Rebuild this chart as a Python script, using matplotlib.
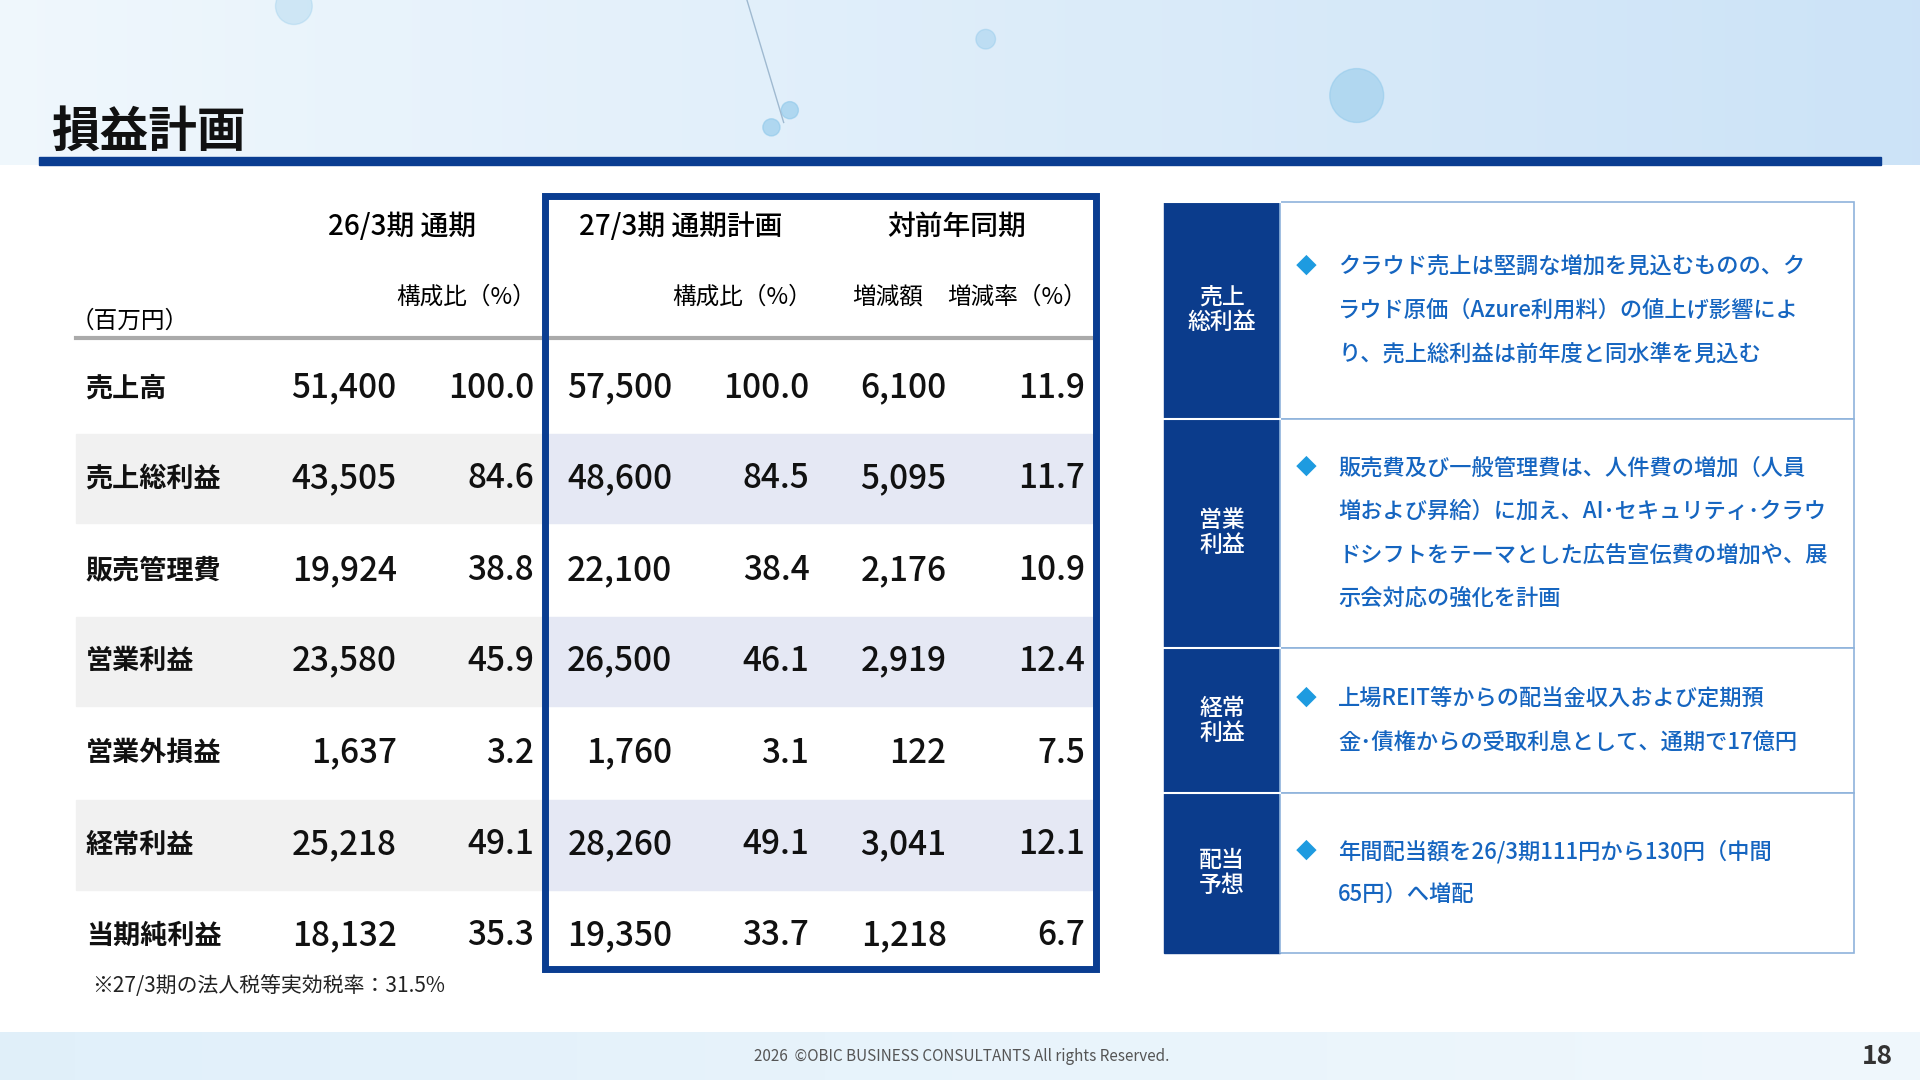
import matplotlib
matplotlib.use("Agg")
import matplotlib.pyplot as plt
import numpy as np
from matplotlib.patches import Rectangle, Circle

plt.rcParams['font.family'] = ['Noto Sans CJK JP', 'DejaVu Sans']

items = ["売上高", "売上総利益", "販売管理費", "営業利益", "営業外損益", "経常利益", "当期純利益"]
fy26 = ["51,400", "43,505", "19,924", "23,580", "1,637", "25,218", "18,132"]
fy26_ratio = ["100.0", "84.6", "38.8", "45.9", "3.2", "49.1", "35.3"]
fy27 = ["57,500", "48,600", "22,100", "26,500", "1,760", "28,260", "19,350"]
fy27_ratio = ["100.0", "84.5", "38.4", "46.1", "3.1", "49.1", "33.7"]
diff = ["6,100", "5,095", "2,176", "2,919", "122", "3,041", "1,218"]
diff_rate = ["11.9", "11.7", "10.9", "12.4", "7.5", "12.1", "6.7"]

side_labels = ["売上\n総利益", "営業\n利益", "経常\n利益", "配当\n予想"]
side_texts = [
    ["クラウド売上は堅調な増加を見込むものの、ク", "ラウド原価（Azure利用料）の値上げ影響によ", "り、売上総利益は前年度と同水準を見込む"],
    ["販売費及び一般管理費は、人件費の増加（人員", "増および昇給）に加え、AI･セキュリティ･クラウ", "ドシフトをテーマとした広告宣伝費の増加や、展", "示会対応の強化を計画"],
    ["上場REIT等からの配当金収入および定期預", "金･債権からの受取利息として、通期で17億円"],
    ["年間配当額を26/3期111円から130円（中間", "65円）へ増配"],
]

W, H = 1568, 882
fig = plt.figure(figsize=(19.2, 10.8), dpi=100)
ax = fig.add_axes([0, 0, 1, 1])
ax.set_xlim(0, W); ax.set_ylim(H, 0); ax.axis('off')

def grad_img(c0, c1):
    t = np.linspace(0, 1, 256)
    img = np.zeros((2, 256, 3))
    for k in range(3):
        img[:, :, k] = c0[k] + (c1[k] - c0[k]) * t
    return img

ax.imshow(grad_img((0.94, 0.97, 0.99), (0.80, 0.89, 0.97)), extent=[0, W, 135, 0], aspect='auto', zorder=0)
for (cx, cy, r, a) in [(1108, 78, 22, 0.5), (645, 90, 7, 0.6), (630, 104, 7, 0.6), (805, 32, 8, 0.4), (240, 5, 15, 0.3)]:
    ax.add_patch(Circle((cx, cy), r, color='#8ec8ea', alpha=a, zorder=1))
ax.plot([610, 640], [0, 100], color='#9fb9d0', lw=1, zorder=1)
ax.text(42, 120, "損益計画", fontsize=35, fontweight='bold', color='#111111', va='baseline', zorder=3)
ax.add_patch(Rectangle((32, 128), 1504, 7, color='#0a3d91', zorder=3))

ax.imshow(grad_img((0.88, 0.94, 0.98), (0.94, 0.97, 0.99)), extent=[0, W, H, 843], aspect='auto', zorder=0)
ax.text(785, 863, "2026  ©OBIC BUSINESS CONSULTANTS All rights Reserved.", fontsize=11, color='#555555', ha='center', va='center')
ax.text(1533, 863, "18", fontsize=19, fontweight='bold', color='#333333', ha='center', va='center')

row_y = [317, 391, 466, 540, 615, 690, 764]
rh = 73
for i, y in enumerate(row_y):
    if i % 2 == 1:
        ax.add_patch(Rectangle((62, y - rh/2), 381, rh, color='#f1f1f1', zorder=1))
        ax.add_patch(Rectangle((447, y - rh/2), 445, rh, color='#e5e8f4', zorder=1))
cols_r = [324, 436, 549, 661, 773, 886]
fs = 24
for i, y in enumerate(row_y):
    ax.text(70, y, items[i], fontsize=19.5, fontweight='bold', va='center', color='#111111', zorder=3)
    for x, arr in zip(cols_r, [fy26, fy26_ratio, fy27, fy27_ratio, diff, diff_rate]):
        ax.text(x, y, arr[i], fontsize=fs, fontweight='medium', ha='right', va='center', color='#111111', zorder=3)

hfs = 20
ax.text(328, 185, "26/3期 通期", fontsize=hfs, fontweight='medium', ha='center', va='center')
ax.text(556, 185, "27/3期 通期計画", fontsize=hfs, fontweight='medium', ha='center', va='center')
ax.text(781, 185, "対前年同期", fontsize=hfs, fontweight='medium', ha='center', va='center')
sfs = 17
ax.text(438, 243, "構成比（%）", fontsize=sfs, ha='right', va='center')
ax.text(663, 243, "構成比（%）", fontsize=sfs, ha='right', va='center')
ax.text(725, 243, "増減額", fontsize=sfs, ha='center', va='center')
ax.text(888, 243, "増減率（%）", fontsize=sfs, ha='right', va='center')
ax.text(58, 262, "（百万円）", fontsize=sfs, ha='left', va='center')
ax.plot([62, 892], [276, 276], color='#aaaaaa', lw=3, zorder=2)
ax.add_patch(Rectangle((445, 160), 450, 631, fill=False, edgecolor='#0a3d91', lw=5, zorder=4))
ax.text(75, 805, "※27/3期の法人税等実効税率：31.5%", fontsize=15, va='center', color='#222222')

bounds = [165, 342, 529, 648, 778]
for k in range(4):
    y0, y1 = bounds[k], bounds[k + 1]
    ax.add_patch(Rectangle((951, y0), 94, y1 - y0, color='#0b3c8c', zorder=2))
    ax.add_patch(Rectangle((1045, y0), 469, y1 - y0, facecolor='white', edgecolor='#8fb3dc', lw=1.2, zorder=2))
    ax.plot([951, 1045], [y0, y0], color='white', lw=1.5, zorder=3)
    ax.text(998, (y0 + y1)/2, side_labels[k], fontsize=16.5, fontweight='medium', color='white', ha='center', va='center',
            linespacing=1.1, zorder=4)
    lines = side_texts[k]
    n = len(lines)
    lh = 35.5
    top = (y0 + y1)/2 - (n - 1)*lh/2
    for j, ln in enumerate(lines):
        ax.text(1093, top + j*lh, ln, fontsize=16, fontweight='medium', color='#1565c0', va='center', zorder=4)
    ax.text(1067, top, "◆", fontsize=15, color='#1e9be0', ha='center', va='center', zorder=4)

fig.savefig("out.png", dpi=100)
